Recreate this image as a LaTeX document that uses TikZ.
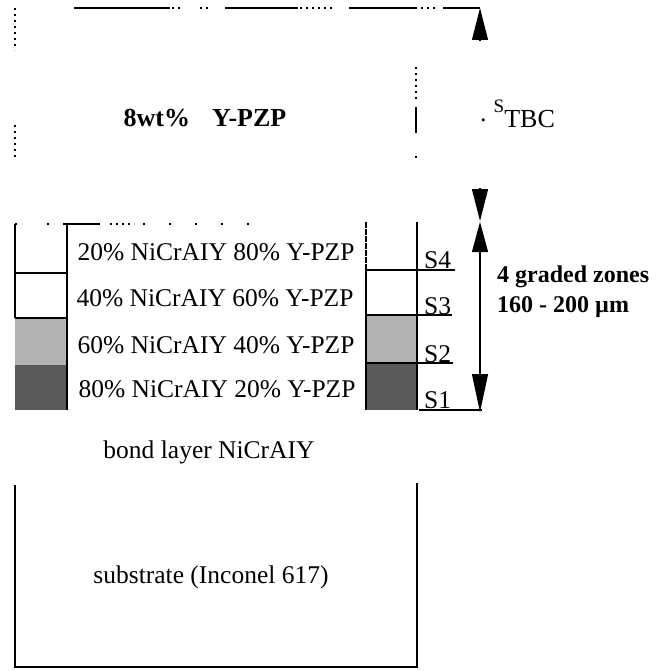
\documentclass[tikz,border=0pt]{standalone}
\usepackage{fontspec}
\usepackage{graphicx}
\setmainfont{Liberation Serif}
\usetikzlibrary{arrows.meta}
\tikzset{
  lbl/.style={inner sep=0pt, font=\fontsize{25.5}{30}\selectfont},
  boldlbl/.style={inner sep=0pt, font=\fontsize{24}{28}\selectfont\bfseries},
  edge/.style={line width=1.2pt, black},
  heavy/.style={line width=1.6pt, black},
  scan/.style={line width=1.5pt, black, dash pattern=on 2pt off 4pt},
  bigtip/.style={-{Triangle[width=16pt,length=32pt]}},
  dark/.style={fill=black!65},
  light/.style={fill=black!30}
}
\begin{document}
\begin{tikzpicture}[x=1pt,y=-1pt]
\useasboundingbox (0,0) rectangle (670,671);
% ---------- TBC layer (broken outline) ----------
\draw[heavy] (74,8) -- (170,8);
\draw[scan] (172,8) -- (182,8);
\draw[scan] (200,8) -- (208,8);
\draw[heavy] (225,8) -- (298,8);
\draw[scan] (300,8) -- (332,8);
\draw[heavy] (349,8) -- (417,8);
\draw[scan] (421,8) -- (438,8);
\coordinate (tbctop) at (480,8);
\draw[edge] (443,8) -- (tbctop);
\draw[scan] (15,8) -- (15,50);
\draw[scan] (15,125) -- (15,158);
\draw[scan] (416,67) -- (416,102);
\draw[heavy] (416,107) -- (416,133);
\draw[scan] (416,156) -- (416,160);

\node[boldlbl, font=\fontsize{26}{30}\selectfont\bfseries] (ysz) at (205,118) {8wt\%\hspace{22pt}Y-PZP};
\node[lbl, anchor=base west, font=\fontsize{26}{30}\selectfont] (stbc) at (480,128)
  {\raisebox{6pt}{.}\hspace{7pt}\raisebox{15pt}{\fontsize{19}{19}\selectfont S}TBC};

% TBC thickness arrows
\coordinate (tbcbot) at (480,221);
\draw[edge, bigtip] (480,41) -- (tbctop);
\draw[edge, bigtip] (480,188) -- (tbcbot);

% ---------- graded zones ----------
\fill[light] (15,318) rectangle (67,365);
\fill[dark]  (15,365) rectangle (67,410);
\fill[light] (366,315) rectangle (417,363);
\fill[dark]  (366,363) rectangle (417,410);

\draw[scan] (15,224) -- (21,224);
\draw[scan] (47,224) -- (53,224);
\draw[heavy] (63,224) -- (100,224);
\draw[scan] (110,224) -- (134,224);
\draw[scan, dash pattern=on 2pt off 24pt] (143,224) -- (260,224);
\draw[edge] (15,224) -- (15,318);
\draw[edge] (67,224) -- (67,410);
\draw[edge, dash pattern=on 6pt off 1pt] (366,222) -- (366,270);
\draw[edge] (366,270) -- (366,410);
\draw[edge] (417,222) -- (417,410);
\draw[edge] (15,273) -- (67,273);
\draw[edge] (15,318) -- (67,318);
\draw[edge] (366,270) -- (455,270);
\draw[edge] (366,315) -- (452,315);
\draw[edge] (366,363) -- (453,363);
\coordinate (gbotl) at (419,410);
\coordinate (gbotr) at (482,410);
\draw[edge] (gbotl) -- (gbotr);

\node[lbl] (r4) at (216,252) {20\% NiCrAIY 80\% Y-PZP};
\node[lbl] (r3) at (215,298) {40\% NiCrAIY 60\% Y-PZP};
\node[lbl] (r2) at (216,345) {60\% NiCrAIY 40\% Y-PZP};
\node[lbl] (r1) at (217,389) {80\% NiCrAIY 20\% Y-PZP};

\node[lbl, anchor=west] (s4) at (424,260) {S4};
\node[lbl, anchor=west] (s3) at (424,306) {S3};
\node[lbl, anchor=west] (s2) at (424,354) {S2};
\node[lbl, anchor=west] (s1) at (424,400) {S1};

\coordinate (gtop) at (480,222);
\coordinate (gend) at (480,412);
\draw[edge, {Triangle[width=16pt,length=30pt]}-{Triangle[width=16pt,length=38pt]}] (gtop) -- (gend);

\node[boldlbl, anchor=west] (gz) at (497,277) {4 graded zones};
\node[boldlbl, anchor=west] (gt) at (497,307) {160 - 200 µm};

% ---------- bond layer and substrate ----------
\node[lbl] (bond) at (209,452) {bond layer NiCrAIY};
\draw[edge] (15,485) -- (15,667) -- (417,667) -- (417,483);
\node[lbl] (sub) at (211,577) {substrate (Inconel 617)};
\end{tikzpicture}
\end{document}
